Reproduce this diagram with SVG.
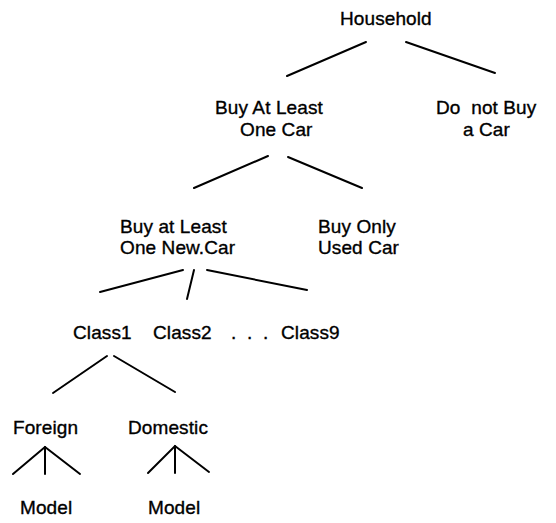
<svg xmlns="http://www.w3.org/2000/svg" width="556" height="523" viewBox="0 0 556 523">
<style>
text{font-family:"Liberation Sans",Arial,sans-serif;font-size:19px;fill:#000;stroke:#000;stroke-width:0.35;letter-spacing:0.1px}
.c{stroke:#000;stroke-width:2;fill:none;stroke-linecap:round}
</style>
<rect width="556" height="523" fill="#fff"/>
<g id="connectors" class="c">
<line x1="366" y1="42" x2="287" y2="76"/>
<line x1="406" y1="42" x2="495" y2="73"/>
<line x1="268" y1="156" x2="194" y2="188"/>
<line x1="288" y1="157" x2="362" y2="188"/>
<line x1="183" y1="270" x2="100" y2="292"/>
<line x1="194" y1="270" x2="187" y2="299"/>
<line x1="207" y1="270" x2="307" y2="290"/>
<line x1="107" y1="356" x2="53" y2="393"/>
<line x1="114" y1="356" x2="175" y2="392"/>
<polyline points="13,474 45,447 80,474"/>
<line x1="45" y1="447" x2="45" y2="474"/>
<polyline points="148,473 175,446 209,472"/>
<line x1="175" y1="446" x2="175" y2="473"/>
</g>
<g id="household"><text x="340" y="25">Household</text></g>
<g id="buy-at-least-one"><text x="215" y="114">Buy At Least</text><text x="240" y="136">One Car</text></g>
<g id="do-not-buy"><text x="436" y="114" xml:space="preserve" style="white-space:pre">Do  not Buy</text><text x="463" y="136">a Car</text></g>
<g id="buy-new"><text x="120" y="233">Buy at Least</text><text x="120" y="254">One New.Car</text></g>
<g id="buy-used"><text x="318" y="233">Buy Only</text><text x="318" y="254">Used Car</text></g>
<g id="class1"><text x="73" y="339">Class1</text></g>
<g id="class2"><text x="153" y="339">Class2</text></g>
<g id="dots"><text x="231" y="339">.</text><text x="247" y="339">.</text><text x="263" y="339">.</text></g>
<g id="class9"><text x="281" y="339">Class9</text></g>
<g id="foreign"><text x="13" y="434">Foreign</text></g>
<g id="domestic"><text x="128" y="434">Domestic</text></g>
<g id="model-foreign"><text x="20" y="514">Model</text></g>
<g id="model-domestic"><text x="148" y="514">Model</text></g>
</svg>
